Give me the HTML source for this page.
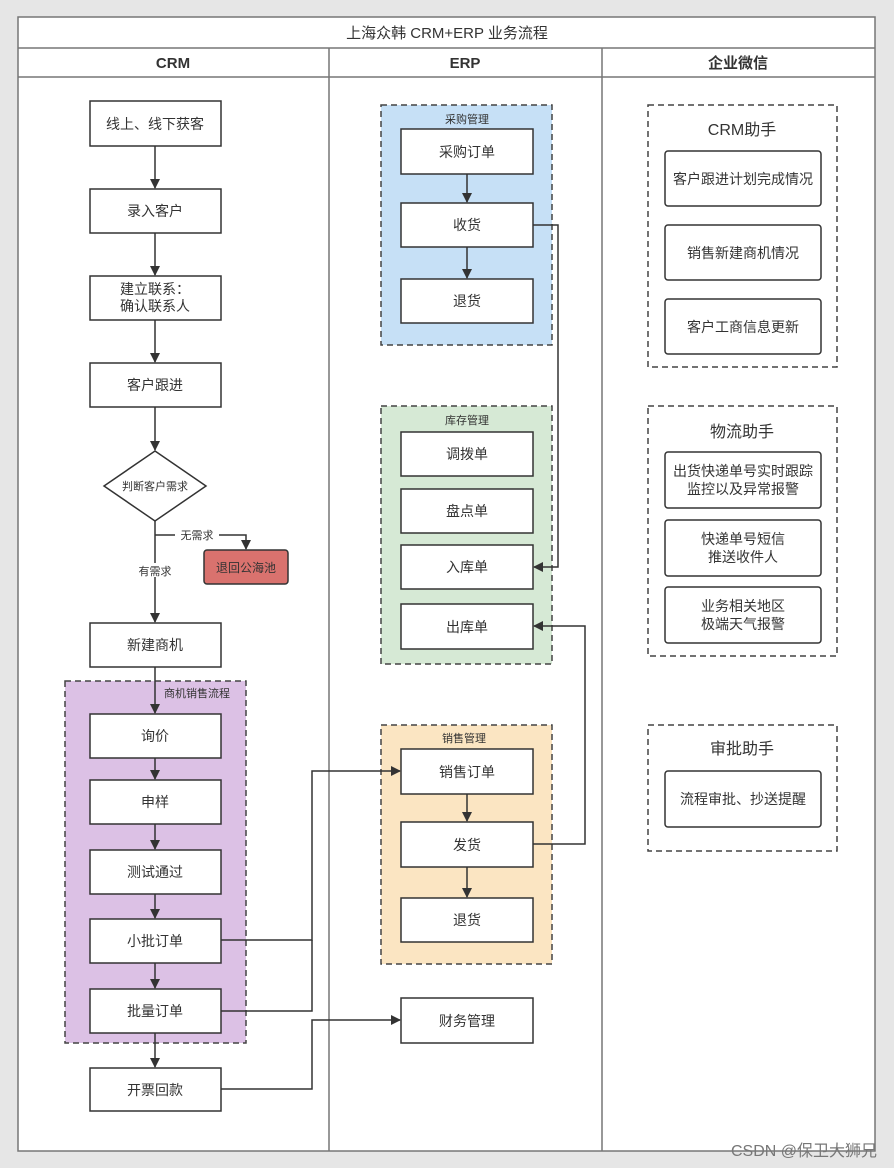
<!DOCTYPE html>
<html><head><meta charset="utf-8"><style>
html,body{margin:0;padding:0;background:#e6e6e6;}
svg{display:block;}
text{font-family:"Liberation Sans","Noto Sans CJK SC",sans-serif;fill:#333;}
</style></head><body>
<svg width="894" height="1168" viewBox="0 0 894 1168" xmlns="http://www.w3.org/2000/svg">
<defs>
<marker id="a" markerWidth="10" markerHeight="10" refX="9" refY="5" orient="auto" markerUnits="userSpaceOnUse">
<path d="M0,0 L10,5 L0,10 z" fill="#333"/></marker>
</defs>
<rect x="0" y="0" width="894" height="1168" fill="#e6e6e6"/>
<rect x="18" y="17" width="857" height="1134" fill="#fff" stroke="#777" stroke-width="1.5"/>
<line x1="18" y1="48" x2="875" y2="48" stroke="#777" stroke-width="1.5"/>
<line x1="18" y1="77" x2="875" y2="77" stroke="#777" stroke-width="1.5"/>
<line x1="329" y1="48" x2="329" y2="1151" stroke="#777" stroke-width="1.5"/>
<line x1="602" y1="48" x2="602" y2="1151" stroke="#777" stroke-width="1.5"/>
<text x="447" y="38" font-size="15" text-anchor="middle">上海众韩 CRM+ERP 业务流程</text>
<text x="173" y="68" font-size="15" font-weight="bold" text-anchor="middle">CRM</text>
<text x="465" y="68" font-size="15" font-weight="bold" text-anchor="middle">ERP</text>
<text x="738" y="68" font-size="15" font-weight="bold" text-anchor="middle">企业微信</text>

<rect x="65" y="681" width="181" height="362" fill="#dcc1e5" stroke="#444" stroke-width="1.5" stroke-dasharray="6,4"/>
<text x="197" y="697" font-size="11" text-anchor="middle">商机销售流程</text>
<rect x="381" y="105" width="171" height="240" fill="#c6e0f6" stroke="#444" stroke-width="1.5" stroke-dasharray="6,4"/>
<text x="467" y="123" font-size="11" text-anchor="middle">采购管理</text>
<rect x="381" y="406" width="171" height="258" fill="#d6e9d5" stroke="#444" stroke-width="1.5" stroke-dasharray="6,4"/>
<text x="467" y="424" font-size="11" text-anchor="middle">库存管理</text>
<rect x="381" y="725" width="171" height="239" fill="#fbe5c2" stroke="#444" stroke-width="1.5" stroke-dasharray="6,4"/>
<text x="464" y="742" font-size="11" text-anchor="middle">销售管理</text>

<g fill="none" stroke="#444" stroke-width="1.5" stroke-dasharray="6,4">
<rect x="648" y="105" width="189" height="262"/>
<rect x="648" y="406" width="189" height="250"/>
<rect x="648" y="725" width="189" height="126"/>
</g>
<text x="742" y="135" font-size="16" text-anchor="middle">CRM助手</text>
<text x="742" y="437" font-size="16" text-anchor="middle">物流助手</text>
<text x="742" y="754" font-size="16" text-anchor="middle">审批助手</text>

<g stroke="#333" stroke-width="1.5" fill="none">
<line x1="155" y1="146" x2="155" y2="188" marker-end="url(#a)"/>
<line x1="155" y1="233" x2="155" y2="275" marker-end="url(#a)"/>
<line x1="155" y1="320" x2="155" y2="362" marker-end="url(#a)"/>
<line x1="155" y1="407" x2="155" y2="450" marker-end="url(#a)"/>
<line x1="155" y1="521" x2="155" y2="622" marker-end="url(#a)"/>
<polyline points="155,535 246,535 246,549" marker-end="url(#a)"/>
<line x1="155" y1="667" x2="155" y2="713" marker-end="url(#a)"/>
<line x1="155" y1="758" x2="155" y2="779" marker-end="url(#a)"/>
<line x1="155" y1="824" x2="155" y2="849" marker-end="url(#a)"/>
<line x1="155" y1="894" x2="155" y2="918" marker-end="url(#a)"/>
<line x1="155" y1="963" x2="155" y2="988" marker-end="url(#a)"/>
<line x1="155" y1="1033" x2="155" y2="1067" marker-end="url(#a)"/>
<line x1="467" y1="174" x2="467" y2="202" marker-end="url(#a)"/>
<line x1="467" y1="247" x2="467" y2="278" marker-end="url(#a)"/>
<line x1="467" y1="794" x2="467" y2="821" marker-end="url(#a)"/>
<line x1="467" y1="867" x2="467" y2="897" marker-end="url(#a)"/>
<polyline points="533,225 558,225 558,567 534,567" marker-end="url(#a)"/>
<polyline points="533,844 585,844 585,626 534,626" marker-end="url(#a)"/>
<polyline points="221,940 312,940 312,771 400,771" marker-end="url(#a)"/>
<polyline points="221,1011 312,1011 312,940"/>
<polyline points="221,1089 312,1089 312,1020 400,1020" marker-end="url(#a)"/>
</g>
<rect x="175" y="528" width="44" height="14" fill="#fff"/>
<text x="197" y="539" font-size="11" text-anchor="middle">无需求</text>
<rect x="135" y="563" width="40" height="14" fill="#fff"/>
<text x="155" y="575" font-size="11" text-anchor="middle">有需求</text>

<g stroke="#333" stroke-width="1.5" fill="#fff">
<rect x="90" y="101" width="131" height="45"/>
<rect x="90" y="189" width="131" height="44"/>
<rect x="90" y="276" width="131" height="44"/>
<rect x="90" y="363" width="131" height="44"/>
<polygon points="155,451 206,486 155,521 104,486"/>
<rect x="90" y="623" width="131" height="44"/>
<rect x="90" y="714" width="131" height="44"/>
<rect x="90" y="780" width="131" height="44"/>
<rect x="90" y="850" width="131" height="44"/>
<rect x="90" y="919" width="131" height="44"/>
<rect x="90" y="989" width="131" height="44"/>
<rect x="90" y="1068" width="131" height="43"/>
<rect x="204" y="550" width="84" height="34" rx="3" fill="#d9726e"/>
<rect x="401" y="129" width="132" height="45"/>
<rect x="401" y="203" width="132" height="44"/>
<rect x="401" y="279" width="132" height="44"/>
<rect x="401" y="432" width="132" height="44"/>
<rect x="401" y="489" width="132" height="44"/>
<rect x="401" y="545" width="132" height="44"/>
<rect x="401" y="604" width="132" height="45"/>
<rect x="401" y="749" width="132" height="45"/>
<rect x="401" y="822" width="132" height="45"/>
<rect x="401" y="898" width="132" height="44"/>
<rect x="401" y="998" width="132" height="45"/>
<rect x="665" y="151" width="156" height="55" rx="3"/>
<rect x="665" y="225" width="156" height="55" rx="3"/>
<rect x="665" y="299" width="156" height="55" rx="3"/>
<rect x="665" y="452" width="156" height="56" rx="3"/>
<rect x="665" y="520" width="156" height="56" rx="3"/>
<rect x="665" y="587" width="156" height="56" rx="3"/>
<rect x="665" y="771" width="156" height="56" rx="3"/>
</g>
<g font-size="14" text-anchor="middle">
<text x="155" y="129">线上、线下获客</text>
<text x="155" y="216">录入客户</text>
<text x="155" y="294">建立联系：</text>
<text x="155" y="311">确认联系人</text>
<text x="155" y="390">客户跟进</text>
<text x="155" y="490" font-size="11">判断客户需求</text>
<text x="246" y="572" font-size="12">退回公海池</text>
<text x="155" y="650">新建商机</text>
<text x="155" y="741">询价</text>
<text x="155" y="807">申样</text>
<text x="155" y="877">测试通过</text>
<text x="155" y="946">小批订单</text>
<text x="155" y="1016">批量订单</text>
<text x="155" y="1095">开票回款</text>
<text x="467" y="157">采购订单</text>
<text x="467" y="230">收货</text>
<text x="467" y="306">退货</text>
<text x="467" y="459">调拨单</text>
<text x="467" y="516">盘点单</text>
<text x="467" y="572">入库单</text>
<text x="467" y="632">出库单</text>
<text x="467" y="777">销售订单</text>
<text x="467" y="850">发货</text>
<text x="467" y="925">退货</text>
<text x="467" y="1026">财务管理</text>
<text x="743" y="184">客户跟进计划完成情况</text>
<text x="743" y="258">销售新建商机情况</text>
<text x="743" y="332">客户工商信息更新</text>
<text x="743" y="476">出货快递单号实时跟踪</text>
<text x="743" y="494">监控以及异常报警</text>
<text x="743" y="544">快递单号短信</text>
<text x="743" y="562">推送收件人</text>
<text x="743" y="611">业务相关地区</text>
<text x="743" y="629">极端天气报警</text>
<text x="743" y="804">流程审批、抄送提醒</text>
</g>
<text x="877" y="1156" font-size="16" text-anchor="end" style="fill:#777">CSDN @保卫大狮兄</text>
</svg>
</body></html>
